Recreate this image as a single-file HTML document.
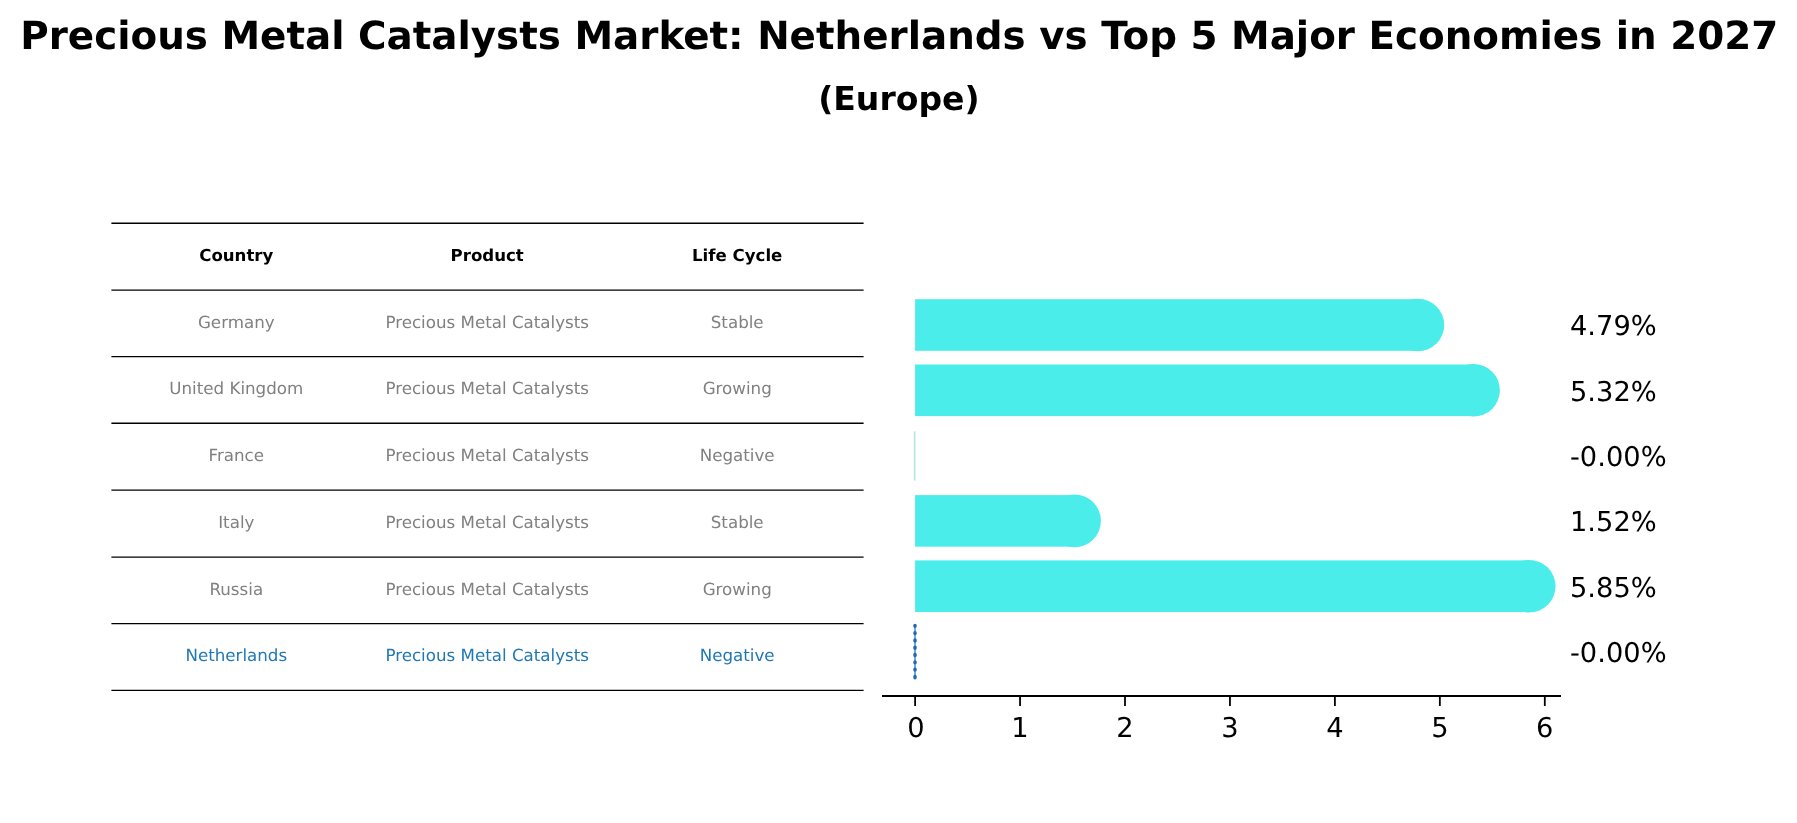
<!DOCTYPE html>
<html lang="en">
<head>
<meta charset="utf-8">
<title>Precious Metal Catalysts Market</title>
<style>
html,body{margin:0;padding:0;background:#fff;}
body{width:1797px;height:823px;overflow:hidden;font-family:"DejaVu Sans", "Liberation Sans", sans-serif;}
svg{display:block;will-change:transform;}
text{font-family:"DejaVu Sans", "Liberation Sans", sans-serif;text-rendering:geometricPrecision;}
.b{font-weight:bold;}
.m{text-anchor:middle;}
</style>
</head>
<body>
<svg width="1797" height="823" viewBox="0 0 1797 823">
<rect width="1797" height="823" fill="#ffffff"/>
<text class="b m" x="899.3" y="49.1" font-size="38.85" fill="#000">Precious Metal Catalysts Market: Netherlands vs Top 5 Major Economies in 2027</text>
<text class="b m" x="898.9" y="109.5" font-size="33.1" fill="#000">(Europe)</text>
<g stroke="#000" stroke-width="1.4">
<line x1="111.4" x2="863.6" y1="223.3" y2="223.3"/>
<line x1="111.4" x2="863.6" y1="290.1" y2="290.1"/>
<line x1="111.4" x2="863.6" y1="356.6" y2="356.6"/>
<line x1="111.4" x2="863.6" y1="423.3" y2="423.3"/>
<line x1="111.4" x2="863.6" y1="490.1" y2="490.1"/>
<line x1="111.4" x2="863.6" y1="557.1" y2="557.1"/>
<line x1="111.4" x2="863.6" y1="623.6" y2="623.6"/>
<line x1="111.4" x2="863.6" y1="690.4" y2="690.4"/>
</g>
<g class="b m" font-size="16.6" fill="#000">
<text x="236.3" y="261.00">Country</text>
<text x="487.2" y="261.00">Product</text>
<text x="737.2" y="261.00">Life Cycle</text>
</g>
<g class="m" font-size="16.7" fill="#808080">
<text x="236.3" y="327.65">Germany</text>
<text x="487.2" y="327.65">Precious Metal Catalysts</text>
<text x="737.2" y="327.65">Stable</text>
</g>
<g class="m" font-size="16.7" fill="#808080">
<text x="236.3" y="394.25">United Kingdom</text>
<text x="487.2" y="394.25">Precious Metal Catalysts</text>
<text x="737.2" y="394.25">Growing</text>
</g>
<g class="m" font-size="16.7" fill="#808080">
<text x="236.3" y="461.00">France</text>
<text x="487.2" y="461.00">Precious Metal Catalysts</text>
<text x="737.2" y="461.00">Negative</text>
</g>
<g class="m" font-size="16.7" fill="#808080">
<text x="236.3" y="527.90">Italy</text>
<text x="487.2" y="527.90">Precious Metal Catalysts</text>
<text x="737.2" y="527.90">Stable</text>
</g>
<g class="m" font-size="16.7" fill="#808080">
<text x="236.3" y="594.65">Russia</text>
<text x="487.2" y="594.65">Precious Metal Catalysts</text>
<text x="737.2" y="594.65">Growing</text>
</g>
<g class="m" font-size="16.7" fill="#1f77b4">
<text x="236.3" y="661.30">Netherlands</text>
<text x="487.2" y="661.30">Precious Metal Catalysts</text>
<text x="737.2" y="661.30">Negative</text>
</g>
<g fill="#4aedea">
<rect x="915.1" y="299.2" width="502.85" height="51.6"/>
<circle cx="1417.95" cy="325.00" r="26.3"/>
<rect x="915.1" y="364.5" width="558.50" height="51.6"/>
<circle cx="1473.60" cy="390.30" r="26.3"/>
<rect x="915.1" y="495.1" width="159.50" height="51.6"/>
<circle cx="1074.60" cy="520.90" r="26.3"/>
<rect x="915.1" y="560.4" width="614.15" height="51.6"/>
<circle cx="1529.25" cy="586.20" r="26.3"/>
</g>
<line x1="914.7" x2="914.7" y1="431.40" y2="480.50" stroke="#dff7f3" stroke-width="2.4"/>
<line x1="914.7" x2="914.7" y1="431.40" y2="480.50" stroke="#a9d9cf" stroke-width="0.8"/>
<line x1="915" x2="915" y1="624.30" y2="679.50" stroke="#6aaae6" stroke-width="2"/>
<line x1="915" x2="915" y1="625.40" y2="679.70" stroke="#2767ad" stroke-width="3.5" stroke-linecap="round" stroke-dasharray="0.9 6.4"/>
<g stroke="#000" stroke-width="2.0">
<line x1="882" x2="1561" y1="695.95" y2="695.95"/>
<line x1="915.1" x2="915.1" y1="695.95" y2="705.95" stroke-width="1.8"/>
<line x1="1020.05" x2="1020.05" y1="695.95" y2="705.95" stroke-width="1.8"/>
<line x1="1125.0" x2="1125.0" y1="695.95" y2="705.95" stroke-width="1.8"/>
<line x1="1229.95" x2="1229.95" y1="695.95" y2="705.95" stroke-width="1.8"/>
<line x1="1334.9" x2="1334.9" y1="695.95" y2="705.95" stroke-width="1.8"/>
<line x1="1439.85" x2="1439.85" y1="695.95" y2="705.95" stroke-width="1.8"/>
<line x1="1544.8" x2="1544.8" y1="695.95" y2="705.95" stroke-width="1.8"/>
</g>
<g class="m" font-size="27.3" fill="#000">
<text x="916.00" y="736.6">0</text>
<text x="1020.05" y="736.6">1</text>
<text x="1125.00" y="736.6">2</text>
<text x="1229.95" y="736.6">3</text>
<text x="1334.90" y="736.6">4</text>
<text x="1439.85" y="736.6">5</text>
<text x="1544.80" y="736.6">6</text>
</g>
<g font-size="27.3" fill="#000">
<text x="1570.0" y="335.40">4.79%</text>
<text x="1570.0" y="400.70">5.32%</text>
<text x="1570.0" y="466.00">-0.00%</text>
<text x="1570.0" y="531.30">1.52%</text>
<text x="1570.0" y="596.60">5.85%</text>
<text x="1570.0" y="661.90">-0.00%</text>
</g>
</svg>
</body>
</html>
